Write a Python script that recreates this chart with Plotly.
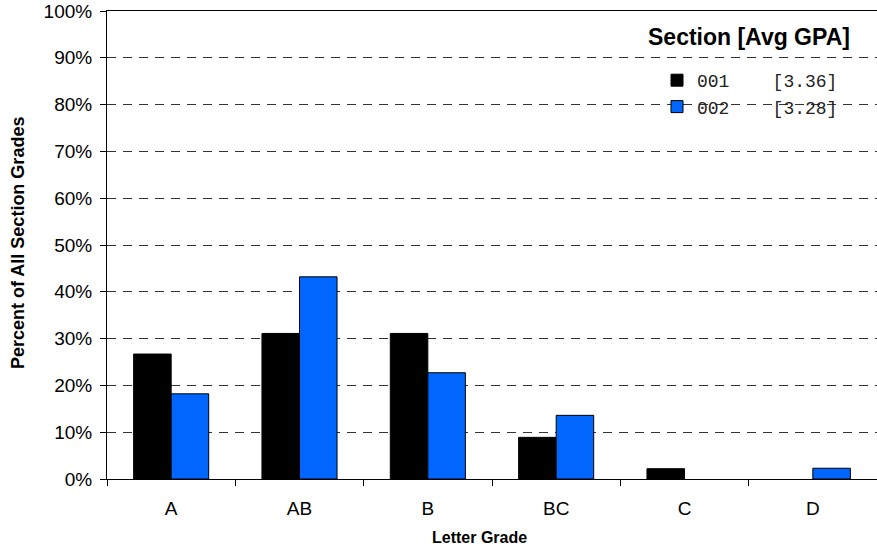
import plotly.graph_objects as go

grades = ["A", "AB", "B", "BC", "C", "D"]
sec001 = [26.7, 31.1, 31.1, 8.9, 2.2, 0.0]
sec002 = [18.2, 43.2, 22.7, 13.6, 0.0, 2.3]
names = ["001", "002"]
gpas = ["3.36", "3.28"]
y_ticks = list(range(0, 101, 10))
y_labels = [f"{v}%" for v in y_ticks]

L, T, W, H = 107, 11, 770, 468

def px_x(x):
    return (x - L) / W

def px_y(y):
    return 1 - (y - T) / H

nb = "\u00a0"
fig = go.Figure()
fig.add_bar(x=grades, y=[v if v > 0 else None for v in sec001],
            name=f"{names[0]}{nb*4}[{gpas[0]}]",
            marker=dict(color="#000000", line=dict(color="#000000", width=1)))
fig.add_bar(x=grades, y=[v if v > 0 else None for v in sec002],
            name=f"{names[1]}{nb*4}[{gpas[1]}]",
            marker=dict(color="#0066FF", line=dict(color="#000000", width=1)))

fig.update_layout(
    width=877, height=556,
    margin=dict(l=L, r=877 - L - W, t=T, b=556 - T - H),
    paper_bgcolor="white", plot_bgcolor="white",
    barmode="group", bargap=0.415, bargroupgap=0,
    font=dict(family="Liberation Sans, Arial", color="#000000", size=19),
    legend=dict(x=px_x(657), y=px_y(62), xanchor="left", yanchor="top",
                font=dict(family="Liberation Mono, Courier New", size=18, color="#222222"),
                bgcolor="rgba(0,0,0,0)", tracegroupgap=0),
    showlegend=True,
    annotations=[
        dict(text="<b>Section [Avg GPA]</b>", x=px_x(852), xanchor="right",
             y=px_y(37), yanchor="middle", xref="paper", yref="paper",
             showarrow=False, font=dict(size=23)),
        dict(text="<b>Letter Grade</b>", x=px_x(479), xanchor="center",
             y=px_y(537), yanchor="middle", xref="paper", yref="paper",
             showarrow=False, font=dict(size=16)),
        dict(text="<b>Percent of All Section Grades</b>", x=px_x(18), xanchor="center",
             y=px_y(243), yanchor="middle", xref="paper", yref="paper",
             textangle=-90, showarrow=False, font=dict(size=18)),
    ],
)

fig.update_xaxes(
    type="category", showline=True, linecolor="#000000", linewidth=1, mirror=True,
    ticks="outside", tickson="boundaries", ticklen=6, tickcolor="#000000",
    tickfont=dict(size=19), showgrid=False, automargin=False, ticklabelstandoff=12,
)
fig.update_yaxes(
    range=[0, 100], tickvals=y_ticks, ticktext=y_labels,
    showline=True, linecolor="#000000", linewidth=1,
    ticks="outside", ticklen=6, tickcolor="#000000", tickfont=dict(size=19),
    showgrid=True, gridcolor="#333333", gridwidth=1, griddash="9px,7px",
    zeroline=False, automargin=False, ticklabelstandoff=4,
)

fig.write_html(
    "out.html",
    config={"displayModeBar": False},
    post_script="document.body.style.margin='0';document.body.style.overflow='hidden';",
)
